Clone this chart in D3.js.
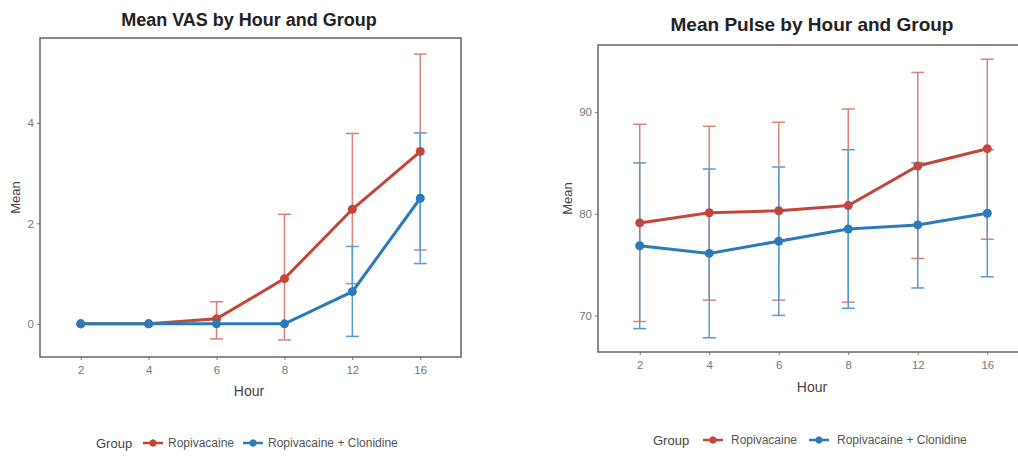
<!DOCTYPE html>
<html>
<head>
<meta charset="utf-8">
<script src="https://cdn.jsdelivr.net/npm/d3@7"></script>
<style>
  body { margin: 0; background: #fff; }
  svg { display: block; font-family: "Liberation Sans", Arial, sans-serif; }
</style>
</head>
<body>
<div id="chart"></div>
<script>
const hours = ["2", "4", "6", "8", "12", "16"];
const groups = ["Ropivacaine", "Ropivacaine + Clonidine"];
const colors = ["#c2473a", "#2b7bba"];
const barColors = ["#d98378", "#5b9bd0"];

// VAS
const vasRopiMean = [0, 0, 0.1, 0.9, 2.28, 3.43];
const vasRopiLow  = [0, 0, -0.3, -0.32, 0.8, 1.47];
const vasRopiHigh = [0, 0, 0.44, 2.18, 3.79, 5.37];
const vasClonMean = [0, 0, 0, 0, 0.64, 2.5];
const vasClonLow  = [0, 0, 0, 0, -0.25, 1.2];
const vasClonHigh = [0, 0, 0, 0, 1.54, 3.8];
const vasTicks = [0, 2, 4];

// Pulse
const pulseRopiMean = [79.1, 80.1, 80.3, 80.8, 84.7, 86.4];
const pulseRopiLow  = [69.4, 71.5, 71.5, 71.3, 75.6, 77.5];
const pulseRopiHigh = [88.8, 88.6, 89.0, 90.3, 93.9, 95.2];
const pulseClonMean = [76.85, 76.1, 77.3, 78.5, 78.9, 80.05];
const pulseClonLow  = [68.7, 67.8, 70.0, 70.7, 72.7, 73.8];
const pulseClonHigh = [85.0, 84.4, 84.6, 86.3, 85.0, 86.3];
const pulseTicks = [70, 80, 90];

const svg = d3.select('#chart')
    .append('svg')
    .attr('width', 1018)
    .attr('height', 457);

function series(means, lows, highs) {
    return hours.map((h, i) => ({ hour: h, mean: means[i], lo: lows[i], hi: highs[i] }));
}

function drawPanel(p) {
    const g = svg.append('g');

    const x = d3.scalePoint()
        .domain(hours)
        .range([p.left, p.right])
        .padding(0.6);

    const y = d3.scaleLinear()
        .domain(p.yDomain)
        .range([p.bottom, p.top]);

    // title
    g.append('text')
        .attr('x', p.titleX)
        .attr('y', p.titleY)
        .attr('text-anchor', 'middle')
        .attr('font-size', p.titleSize)
        .attr('font-weight', 'bold')
        .attr('fill', '#222')
        .text(p.title);

    // axes
    const xAxis = d3.axisBottom(x).tickSize(3).tickPadding(6);
    const yAxis = d3.axisLeft(y).tickValues(p.ticks).tickFormat(d3.format('d')).tickSize(3).tickPadding(3);

    const gx = g.append('g')
        .attr('transform', `translate(0,${p.bottom})`)
        .call(xAxis);
    const gy = g.append('g')
        .attr('transform', `translate(${p.left},0)`)
        .call(yAxis);
    [gx, gy].forEach(a => {
        a.select('.domain').remove();
        a.selectAll('line').attr('stroke', '#777');
        a.selectAll('text')
            .attr('fill', '#777')
            .attr('font-size', 11.5)
            .attr('font-family', '"Liberation Sans", Arial, sans-serif');
    });

    // frame
    g.append('rect')
        .attr('x', p.left)
        .attr('y', p.top)
        .attr('width', p.right - p.left)
        .attr('height', p.bottom - p.top)
        .attr('fill', 'none')
        .attr('stroke', '#666')
        .attr('stroke-width', 1.5);

    // axis titles
    g.append('text')
        .attr('x', p.titleX)
        .attr('y', p.xLabelY)
        .attr('text-anchor', 'middle')
        .attr('font-size', 14)
        .attr('fill', '#444')
        .text('Hour');
    g.append('text')
        .attr('transform', `translate(${p.yLabelX},${(p.top + p.bottom) / 2}) rotate(-90)`)
        .attr('text-anchor', 'middle')
        .attr('font-size', 13)
        .attr('fill', '#444')
        .text('Mean');

    const cap = 6.5;
    // error bars
    p.data.forEach((s, k) => {
        const eb = g.append('g')
            .attr('stroke', barColors[k])
            .attr('stroke-width', 1.5);
        const rows = s.filter(d => d.hi !== d.lo);
        eb.selectAll('.v').data(rows).join('line')
            .attr('x1', d => x(d.hour)).attr('x2', d => x(d.hour))
            .attr('y1', d => y(d.lo)).attr('y2', d => y(d.hi));
        eb.selectAll('.t').data(rows).join('line')
            .attr('x1', d => x(d.hour) - cap).attr('x2', d => x(d.hour) + cap)
            .attr('y1', d => y(d.hi)).attr('y2', d => y(d.hi));
        eb.selectAll('.b').data(rows).join('line')
            .attr('x1', d => x(d.hour) - cap).attr('x2', d => x(d.hour) + cap)
            .attr('y1', d => y(d.lo)).attr('y2', d => y(d.lo));
    });

    // lines
    const line = d3.line().x(d => x(d.hour)).y(d => y(d.mean));
    p.data.forEach((s, k) => {
        g.append('path')
            .datum(s)
            .attr('d', line)
            .attr('fill', 'none')
            .attr('stroke', colors[k])
            .attr('stroke-width', 3);
    });

    // points
    p.data.forEach((s, k) => {
        g.append('g').selectAll('circle').data(s).join('circle')
            .attr('cx', d => x(d.hour))
            .attr('cy', d => y(d.mean))
            .attr('r', 4.5)
            .attr('fill', colors[k]);
    });

    // legend
    const lg = g.append('g').attr('transform', `translate(0,${p.legendY})`);
    lg.append('text')
        .attr('x', p.legendX)
        .attr('y', 0)
        .attr('dy', '0.35em')
        .attr('font-size', 13)
        .attr('fill', '#444')
        .text('Group');
    groups.forEach((name, k) => {
        const kx = p.legendX + p.keyOffsets[k];
        lg.append('line')
            .attr('x1', kx - 10).attr('x2', kx + 10)
            .attr('y1', 0).attr('y2', 0)
            .attr('stroke', colors[k])
            .attr('stroke-width', 2.5);
        lg.append('line')
            .attr('x1', kx).attr('x2', kx)
            .attr('y1', -4).attr('y2', 4)
            .attr('stroke', colors[k])
            .attr('stroke-opacity', 0.6)
            .attr('stroke-width', 1.2);
        lg.append('circle')
            .attr('cx', kx).attr('cy', 0)
            .attr('r', 3.5)
            .attr('fill', colors[k]);
        lg.append('text')
            .attr('x', kx + p.textGap)
            .attr('y', 0)
            .attr('dy', '0.35em')
            .attr('font-size', 12)
            .attr('fill', '#555')
            .text(name);
    });
}

drawPanel({
    title: 'Mean VAS by Hour and Group',
    left: 40, right: 461, top: 38, bottom: 357,
    yDomain: [-0.66, 5.69], ticks: vasTicks,
    titleX: 249, titleY: 26, titleSize: 18, xLabelY: 396, yLabelX: 20,
    legendX: 96, legendY: 443, keyOffsets: [57, 157], textGap: 15,
    data: [
        series(vasRopiMean, vasRopiLow, vasRopiHigh),
        series(vasClonMean, vasClonLow, vasClonHigh)
    ]
});

drawPanel({
    title: 'Mean Pulse by Hour and Group',
    left: 598, right: 1029, top: 45, bottom: 352,
    yDomain: [66.4, 96.6], ticks: pulseTicks,
    titleX: 812, titleY: 31, titleSize: 19, xLabelY: 392, yLabelX: 572,
    legendX: 653, legendY: 440, keyOffsets: [60, 166], textGap: 18,
    data: [
        series(pulseRopiMean, pulseRopiLow, pulseRopiHigh),
        series(pulseClonMean, pulseClonLow, pulseClonHigh)
    ]
});
</script>
</body>
</html>
